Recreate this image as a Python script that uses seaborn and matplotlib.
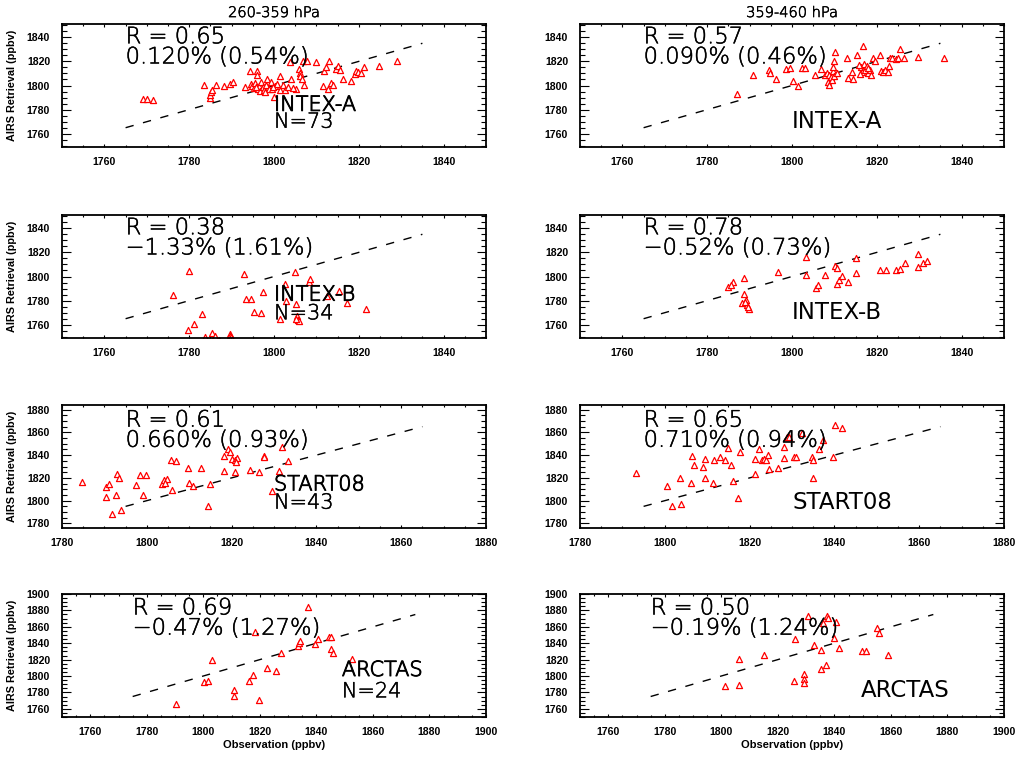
import matplotlib
matplotlib.use("Agg")
import matplotlib.pyplot as plt
import matplotlib.patheffects as pe
import seaborn as sns
import pandas as pd
from matplotlib.ticker import MultipleLocator

# ---------------- data ----------------
pressure_titles = ["260-359 hPa", "359-460 hPa"]

intexa_l_obs = [1769.2, 1770.0, 1771.5, 1783.6, 1784.9, 1785.0, 1785.1, 1785.3, 1786.4, 1788.3,
                1789.6, 1790.4, 1793.2, 1794.3, 1794.6, 1794.9, 1795.2, 1795.5, 1795.9, 1796.1,
                1796.2, 1796.5, 1796.8, 1797.0, 1797.3, 1797.6, 1798.0, 1798.4, 1798.8, 1799.2,
                1799.5, 1800.0, 1800.3, 1800.8, 1801.4, 1801.5, 1802.1, 1802.7, 1803.3, 1803.7,
                1803.9, 1805.1, 1806.0, 1806.1, 1806.2, 1806.5, 1806.8, 1807.0, 1807.7, 1810.0,
                1811.5, 1811.8, 1812.3, 1812.7, 1813.0, 1813.5, 1813.9, 1814.6, 1815.0, 1815.5,
                1816.3, 1818.2, 1819.0, 1819.4, 1819.8, 1820.6, 1821.2, 1824.7, 1829.1, 1795.8,
                1797.8, 1799.8, 1804.5]
intexa_l_airs = [1788.5, 1789.0, 1788.0, 1800.5, 1789.5, 1792.0, 1794.5, 1796.5, 1800.8, 1799.8,
                 1801.5, 1803.0, 1799.0, 1812.0, 1801.5, 1799.5, 1798.0, 1802.0, 1812.0, 1808.5,
                 1797.0, 1800.0, 1795.5, 1803.0, 1798.5, 1796.5, 1800.5, 1805.5, 1797.5, 1802.5,
                 1797.0, 1790.5, 1800.0, 1801.5, 1807.5, 1796.5, 1800.3, 1796.0, 1798.5, 1819.5,
                 1805.5, 1797.5, 1813.5, 1810.5, 1807.8, 1805.5, 1820.0, 1800.8, 1820.0, 1819.5,
                 1799.8, 1812.0, 1815.5, 1796.8, 1820.5, 1802.0, 1800.3, 1813.5, 1816.0, 1813.0,
                 1805.5, 1803.8, 1809.5, 1812.0, 1811.0, 1810.5, 1815.5, 1816.0, 1820.2, 1799.0,
                 1794.5, 1799.0, 1798.0]

intexa_r_obs = [1787.0, 1790.9, 1794.6, 1794.8, 1796.2, 1798.7, 1799.5, 1800.2, 1801.4, 1802.3,
                1803.1, 1805.4, 1806.8, 1807.8, 1808.2, 1808.5, 1808.7, 1808.8, 1809.2, 1809.4,
                1809.6, 1809.7, 1809.8, 1810.0, 1810.2, 1810.5, 1812.9, 1813.2, 1814.1, 1814.5,
                1815.3, 1816.2, 1816.5, 1816.7, 1817.0, 1817.3, 1817.6, 1818.0, 1818.4, 1818.7,
                1819.2, 1819.6, 1820.8, 1820.9, 1821.4, 1822.0, 1822.6, 1822.8, 1823.0, 1823.6,
                1824.5, 1825.0, 1825.5, 1826.3, 1829.6, 1835.8, 1815.8, 1817.9, 1816.0]
intexa_r_airs = [1792.8, 1808.5, 1813.2, 1810.7, 1805.8, 1813.4, 1814.5, 1803.5, 1800.0, 1814.8,
                 1814.8, 1808.5, 1814.0, 1808.5, 1810.0, 1803.0, 1800.4, 1809.0, 1807.0, 1804.5,
                 1812.0, 1815.5, 1820.0, 1808.0, 1827.5, 1810.5, 1822.6, 1806.6, 1811.2, 1805.8,
                 1825.6, 1815.0, 1811.0, 1832.4, 1818.0, 1813.0, 1816.0, 1810.0, 1812.5, 1809.0,
                 1822.6, 1820.7, 1825.6, 1812.0, 1811.0, 1813.0, 1811.5, 1816.0, 1822.5, 1823.0,
                 1822.0, 1822.8, 1830.2, 1822.6, 1823.5, 1822.6, 1817.0, 1814.5, 1809.5]

intexb_l_obs = [1776.2, 1779.9, 1779.7, 1781.1, 1783.1, 1783.8, 1785.4, 1786.0, 1789.6, 1789.7,
                1789.9, 1793.0, 1793.4, 1794.5, 1795.2, 1797.0, 1797.5, 1801.5, 1802.6, 1802.9,
                1805.0, 1805.2, 1805.4, 1805.6, 1806.0, 1805.1, 1808.3, 1808.5, 1812.5, 1815.4,
                1817.2, 1821.8, 1790.0, 1787.0]
intexb_l_airs = [1784.8, 1804.8, 1756.0, 1760.8, 1768.5, 1749.5, 1753.4, 1750.5, 1752.5, 1751.0,
                 1749.8, 1802.0, 1781.5, 1781.5, 1770.5, 1769.9, 1787.0, 1765.0, 1793.8, 1779.3,
                 1803.5, 1777.0, 1767.0, 1764.0, 1763.0, 1764.5, 1795.8, 1798.2, 1784.0, 1787.8,
                 1778.2, 1773.2, 1748.0, 1747.5]

intexb_r_obs = [1784.8, 1786.0, 1785.5, 1788.7, 1788.7, 1789.1, 1789.5, 1789.9, 1788.3, 1789.0,
                1789.7, 1796.6, 1803.4, 1803.4, 1805.7, 1806.1, 1807.9, 1810.1, 1810.6, 1810.5,
                1811.1, 1811.7, 1813.2, 1815.2, 1815.2, 1820.8, 1822.2, 1824.5, 1825.5, 1826.7,
                1829.8, 1829.8, 1831.0, 1831.8]
intexb_r_airs = [1790.9, 1795.4, 1793.0, 1798.7, 1785.3, 1780.5, 1776.3, 1772.9, 1777.7, 1778.5,
                 1775.0, 1803.8, 1816.1, 1801.5, 1790.3, 1793.1, 1801.5, 1808.6, 1807.2, 1793.7,
                 1797.3, 1800.1, 1795.4, 1815.6, 1803.0, 1805.0, 1805.8, 1805.0, 1806.6, 1811.4,
                 1819.0, 1807.7, 1811.4, 1812.8]

start08_l_obs = [1784.7, 1790.4, 1791.2, 1790.4, 1791.8, 1793.0, 1793.5, 1792.8, 1793.8, 1797.5,
                 1798.5, 1799.7, 1799.0, 1803.6, 1804.0, 1804.8, 1804.4, 1806.0, 1805.8, 1806.9,
                 1809.7, 1810.0, 1811.0, 1812.9, 1815.0, 1814.4, 1818.1, 1818.1, 1819.1, 1819.7,
                 1820.1, 1820.9, 1821.3, 1820.7, 1824.4, 1826.4, 1827.6, 1827.6, 1829.5, 1831.1,
                 1831.9, 1833.3, 1821.0]
start08_l_airs = [1816.3, 1812.0, 1814.3, 1803.3, 1788.2, 1823.6, 1820.2, 1804.7, 1791.7, 1813.5,
                  1822.2, 1822.2, 1805.4, 1815.0, 1817.8, 1819.3, 1815.5, 1809.1, 1835.8, 1834.6,
                  1828.5, 1815.5, 1812.6, 1828.5, 1814.4, 1795.2, 1839.0, 1825.9, 1845.4, 1842.5,
                  1836.7, 1835.3, 1837.2, 1825.0, 1827.1, 1825.6, 1839.6, 1838.1, 1808.2, 1825.9,
                  1846.8, 1835.2, 1834.0]

start08_r_obs = [1793.2, 1800.6, 1801.8, 1803.6, 1803.9, 1806.1, 1806.4, 1807.0, 1809.1, 1809.5,
                 1809.5, 1811.3, 1811.7, 1813.1, 1814.2, 1814.8, 1815.7, 1816.2, 1817.2, 1817.8,
                 1821.2, 1821.3, 1822.3, 1822.9, 1823.4, 1823.9, 1824.3, 1824.6, 1826.6, 1828.0,
                 1828.0, 1828.8, 1829.4, 1830.4, 1831.0, 1832.4, 1834.7, 1835.0, 1835.0, 1836.3,
                 1837.2, 1839.6, 1840.2, 1841.8]
start08_r_airs = [1824.2, 1812.8, 1795.2, 1820.2, 1797.5, 1815.5, 1839.6, 1831.7, 1829.4, 1836.7,
                  1820.2, 1815.8, 1836.1, 1838.7, 1836.1, 1846.3, 1830.9, 1817.2, 1802.7, 1842.5,
                  1836.7, 1823.6, 1845.4, 1836.0, 1836.5, 1836.0, 1840.2, 1827.7, 1828.9, 1847.4,
                  1837.6, 1856.1, 1856.1, 1838.7, 1838.7, 1859.0, 1838.0, 1835.5, 1820.2, 1845.4,
                  1853.3, 1838.7, 1866.3, 1863.7]

arctas_l_obs = [1790.3, 1803.1, 1800.4, 1801.6, 1810.7, 1810.9, 1816.0, 1817.5, 1818.3, 1819.8,
                1822.7, 1825.6, 1827.6, 1833.5, 1834.0, 1834.3, 1837.0, 1839.6, 1840.7, 1844.5,
                1845.1, 1845.7, 1852.7, 1845.3]
arctas_l_airs = [1766.3, 1819.5, 1792.9, 1793.7, 1783.5, 1775.3, 1793.7, 1800.7, 1854.2, 1771.3,
                 1810.1, 1806.0, 1827.7, 1836.6, 1840.7, 1842.8, 1883.6, 1838.7, 1844.8, 1847.7,
                 1832.6, 1828.5, 1821.1, 1848.0]

arctas_r_obs = [1801.4, 1806.1, 1806.3, 1815.0, 1825.6, 1825.9, 1829.1, 1829.4, 1829.1, 1830.7,
                1832.7, 1835.1, 1835.1, 1835.9, 1837.0, 1837.4, 1837.7, 1839.8, 1840.6, 1841.8,
                1849.8, 1851.2, 1855.1, 1855.7, 1859.0]
arctas_r_airs = [1788.4, 1789.6, 1820.3, 1825.6, 1794.5, 1844.8, 1801.9, 1795.8, 1791.7, 1872.6,
                 1837.9, 1831.7, 1808.9, 1864.4, 1812.9, 1872.6, 1870.2, 1846.9, 1866.1, 1833.8,
                 1830.5, 1830.5, 1859.1, 1853.0, 1825.6]

r_values = [["R = 0.65", "R = 0.57"], ["R = 0.38", "R = 0.78"],
            ["R = 0.61", "R = 0.65"], ["R = 0.69", "R = 0.50"]]
bias_values = [["0.120% (0.54%)", "0.090% (0.46%)"], ["\u22121.33% (1.61%)", "\u22120.52% (0.73%)"],
               ["0.660% (0.93%)", "0.710% (0.94%)"], ["\u22120.47% (1.27%)", "\u22120.19% (1.24%)"]]
campaigns = ["INTEX-A", "INTEX-B", "START08", "ARCTAS"]
n_labels = ["N=73", "N=34", "N=43", "N=24"]
one_to_one = [(1765, 1835), (1765, 1835), (1795, 1865), (1775, 1875)]

panel_data = [[(intexa_l_obs, intexa_l_airs), (intexa_r_obs, intexa_r_airs)],
              [(intexb_l_obs, intexb_l_airs), (intexb_r_obs, intexb_r_airs)],
              [(start08_l_obs, start08_l_airs), (start08_r_obs, start08_r_airs)],
              [(arctas_l_obs, arctas_l_airs), (arctas_r_obs, arctas_r_airs)]]

xlims = [(1750, 1850), (1750, 1850), (1780, 1880), (1750, 1900)]
ylims = [(1749, 1851), (1749, 1851), (1776, 1884), (1750, 1900)]
xtick_starts = [1760, 1760, 1780, 1760]
ytick_starts = [1760, 1760, 1780, 1760]

# label positions (data coords) : [left: (campaign, N), right: campaign]
label_pos = [
    [((1800, 1779), (1800, 1765)), (1800, 1765)],
    [((1800, 1780), (1800, 1764.5)), (1800, 1764.5)],
    [((1830, 1809), (1830, 1793)), (1830, 1792.5)],
    [((1849, 1800), (1849, 1774)), (1849.5, 1775)],
]

# ---------------- figure ----------------
sns.set_style("white")
plt.rcParams["font.family"] = ["DejaVu Sans"]
plt.rcParams.update({"text.color": "black", "axes.labelcolor": "black",
                     "xtick.color": "black", "ytick.color": "black"})

fig = plt.figure(figsize=(10.24, 7.61), dpi=100)
col_left = [62 / 1024, 580 / 1024]
width = 424 / 1024
row_bottom = [614 / 761, 423 / 761, 233 / 761, 44 / 761]
height = 123 / 761

darken = [pe.withStroke(linewidth=0.35, foreground="black")]
stat_font = dict(family="DejaVu Sans", fontsize=16.3, fontweight="light", color="black",
                 path_effects=darken)
nlab_font = dict(family="DejaVu Sans", fontsize=15, fontweight="light", color="black",
                 path_effects=darken)
camp_font_l = dict(family="DejaVu Sans", fontsize=15, fontweight="light", color="black",
                   path_effects=[pe.withStroke(linewidth=0.7, foreground="black")])
camp_font_r = dict(family="DejaVu Sans", fontsize=16.5, fontweight="normal", color="black")

for r in range(4):
    for c in range(2):
        ax = fig.add_axes([col_left[c], row_bottom[r], width, height])
        obs, airs = panel_data[r][c]
        df = pd.DataFrame({"obs": obs, "airs": airs})
        lo, hi = one_to_one[r]
        ref = pd.DataFrame({"x": [lo, hi], "y": [lo, hi]})
        sns.lineplot(data=ref, x="x", y="y", ax=ax, color="black", lw=1.0,
                     dashes=False, zorder=1)
        ax.lines[-1].set_dashes((6, 7))
        sns.scatterplot(data=df, x="obs", y="airs", ax=ax, marker="^", s=19,
                        linewidth=0.9, zorder=2, legend=False)
        coll = ax.collections[-1]
        coll.set_facecolor("white")
        coll.set_edgecolor("red")

        ax.xaxis.set_minor_locator(MultipleLocator(5))
        ax.yaxis.set_minor_locator(MultipleLocator(5))
        ax.set_xticks(list(range(xtick_starts[r], xlims[r][1] + 1, 20)))
        ax.set_yticks(list(range(ytick_starts[r], int(ylims[r][1]) + 1, 20)))
        ax.set_xlim(*xlims[r])
        ax.set_ylim(*ylims[r])

        ax.tick_params(axis="x", which="major", direction="in", length=2.5, width=0.8,
                       top=True, bottom=True, pad=7, colors="black")
        ax.tick_params(axis="x", which="minor", direction="in", length=1.3, width=0.8,
                       top=True, bottom=True)
        ax.tick_params(axis="y", which="major", direction="in", length=6.5, width=0.8,
                       left=True, right=True, pad=8.5, colors="black")
        ax.tick_params(axis="y", which="minor", direction="in", length=3.5, width=0.8,
                       left=True, right=True)
        for lab in ax.get_xticklabels() + ax.get_yticklabels():
            lab.set_fontfamily("Liberation Sans")
            lab.set_fontsize(7.6)
            lab.set_fontweight("bold")
        for sp in ax.spines.values():
            sp.set_linewidth(1.3)
            sp.set_color("black")

        if c == 0:
            ax.set_ylabel("AIRS Retrieval (ppbv)", fontfamily="Liberation Sans",
                          fontsize=7.8, fontweight="bold", color="black")
            ax.yaxis.set_label_coords(-0.105, 0.5)
        else:
            ax.set_ylabel("")
        if r == 3:
            ax.set_xlabel("Observation (ppbv)", fontfamily="Liberation Sans",
                          fontsize=8, fontweight="bold", color="black")
            ax.xaxis.set_label_coords(0.5, -0.185)
        else:
            ax.set_xlabel("")
        if r == 0:
            ax.set_title(pressure_titles[c], fontsize=10.5, fontweight="light",
                         family="DejaVu Sans", pad=5, color="black",
                         path_effects=[pe.withStroke(linewidth=0.4, foreground="black")])

        # statistics text
        ax.annotate(r_values[r][c], xy=(lo, hi), xycoords="data", ha="left",
                    va="baseline", annotation_clip=False, zorder=5, **stat_font)
        ax.annotate(bias_values[r][c], xy=(lo, hi), xycoords="data",
                    xytext=(0, -14.5), textcoords="offset points", ha="left",
                    va="baseline", annotation_clip=False, zorder=5, **stat_font)
        if c == 0:
            (cx, cy), (nx, ny) = label_pos[r][0]
            ax.text(cx, cy, campaigns[r], ha="left", va="baseline", zorder=5, **camp_font_l)
            ax.text(nx, ny, n_labels[r], ha="left", va="baseline", zorder=5, **nlab_font)
        else:
            cx, cy = label_pos[r][1]
            ax.text(cx, cy, campaigns[r], ha="left", va="baseline", zorder=5, **camp_font_r)

fig.savefig("out.png", dpi=100, facecolor="white")
